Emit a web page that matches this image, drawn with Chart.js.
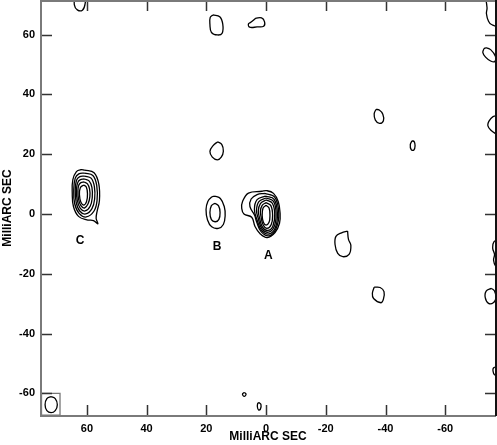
<!DOCTYPE html>
<html lang="en">
<head>
    <meta charset="UTF-8">
    <title>Contour map A B C</title>
    <script src="https://cdn.jsdelivr.net/npm/chart.js"></script>
    <style>
        body { margin: 0; background: #fff; }
        #wrap { width: 497px; height: 445px; }
    </style>
</head>
<body>
    <div id="wrap"><canvas id="mapa" width="497" height="445"></canvas></div>

    <script>
        // axis ticks (milliarcsec)
        const xTicks = [60, 40, 20, 0, -20, -40, -60];
        const yTicks = [60, 40, 20, 0, -20, -40, -60];

        // component A: nested contours, outer to inner
        const compA = [
            [[1.4,7.6],[5.9,7.0],[7.9,4.1],[8.15,1.9],[7.4,0],[4.8,-1.1],[3.7,-4.2],[2.0,-6.6],[-0.4,-7.9],[-3.0,-6.2],[-4.5,-3.1],[-4.7,0.2],[-4.1,4.1],[-2.5,6.9],[-0.2,7.8]],
            [[0.5,6.9],[-2.9,5.6],[-4.25,0.3],[-3.4,-4.8],[-1.1,-7.3],[1.6,-6.0],[3.2,-2.5],[3.8,-0.5],[5.4,2.5],[5.0,5.0],[3.0,6.5]],
            [[0.2,6.0],[-2.7,4.9],[-3.8,0.2],[-3.1,-4.6],[-1.0,-6.7],[1.5,-5.5],[3.0,-2.0],[3.9,1.5],[3.0,4.8]],
            [[0,5.35],[-2.5,4.2],[-3.35,0],[-2.7,-4.3],[-0.8,-6.1],[1.4,-4.9],[2.6,-1.5],[3.2,1.2],[2.4,4.1]],
            [[0,4.7],[-2.1,3.6],[-2.9,0],[-2.3,-4.0],[-0.6,-5.5],[1.2,-4.4],[2.2,-1.2],[2.6,1.0],[1.9,3.5]],
            [[0,3.8],[-1.6,2.8],[-2.2,-0.5],[-1.7,-3.6],[-0.3,-4.8],[1.0,-3.6],[1.7,-0.8],[1.9,1.0],[1.3,2.9]],
            [[0,2.9],[-1.0,2.0],[-1.3,-0.4],[-1.0,-2.8],[0,-3.7],[0.9,-2.8],[1.3,-0.4],[1.0,2.0]]
        ];

        // component B: two contours
        const compB = [
            [[17.3,6.0],[15.3,5.2],[14.0,2.5],[13.7,-0.5],[14.3,-3.5],[16.0,-4.8],[18.2,-4.3],[19.6,-2.0],[20.1,1.5],[19.5,4.2],[18.3,5.6]],
            [[17.1,3.6],[15.9,2.7],[15.4,0.5],[15.8,-1.8],[17.0,-2.6],[18.3,-1.9],[18.8,0.5],[18.3,2.8]]
        ];

        // component C: nested contours, outer to inner
        const compC = [
            [[60.8,14.7],[57.6,13.8],[56.0,10],[55.8,4.5],[56.6,0.8],[56.9,-1.5],[56.3,-3.3],[57.8,-2.2],[60.0,-2.0],[62.8,-0.8],[64.5,2.5],[64.9,7],[64.7,11.5],[63.5,14.2],[62.0,14.8]],
            [[60.8,13.7],[58.0,12.9],[56.7,9.5],[56.6,4.5],[57.6,1.0],[60.2,-1.0],[62.6,0.2],[64.1,3.5],[64.4,8],[63.9,12.0],[62.7,13.4]],
            [[60.8,12.7],[58.6,12.0],[57.5,9.2],[57.4,5.0],[58.3,1.8],[60.4,0.0],[62.4,1.0],[63.6,4.0],[63.9,8],[63.5,11.2],[62.5,12.4]],
            [[60.8,11.7],[59.2,11.0],[58.3,8.8],[58.2,5.5],[58.9,2.6],[60.6,1.0],[62.2,1.9],[63.2,4.5],[63.5,8],[63.1,10.4],[62.3,11.4]],
            [[60.9,10.7],[59.8,10.1],[59.1,8.4],[59.0,5.8],[59.6,3.4],[60.8,2.0],[62.0,2.8],[62.8,5.0],[63.0,7.8],[62.7,9.7],[62.0,10.5]],
            [[61.1,9.7],[60.2,9.0],[59.8,6.8],[60.1,4.2],[61.0,3.0],[62.0,3.9],[62.5,6.5],[62.2,8.8]]
        ];

        // faint single-level contours around the field
        const noise = [
            [[64,73],[64.2,70],[63.2,68.3],[61.5,68.2],[60.6,70.3],[60.8,73]],
            [[17.8,66.6],[15.5,66.0],[14.5,63.5],[14.7,60.5],[16.3,59.9],[18.3,60.8],[18.8,63.5],[18.7,65.8]],
            [[3.5,65.5],[1.5,65.6],[0.5,64.3],[0.8,62.8],[3.0,62.6],[5.5,62.5],[5.9,63.6],[5.0,64.2]],
            [[16.2,24.2],[14.8,23.2],[14.3,21.0],[15.0,19.0],[16.3,18.1],[18.0,19.0],[18.8,21],[17.8,22.8]],
            [[-36.8,35.0],[-36.2,33.5],[-36.6,31.4],[-38.0,30.3],[-39.3,31.2],[-39.1,33.4],[-37.9,34.8]],
            [[-48.9,24.5],[-48.3,23.2],[-48.6,21.5],[-49.5,21.4],[-49.9,22.8],[-49.6,24.2]],
            [[-73.4,73],[-74.0,69],[-73.8,67],[-74.5,64.5],[-75.5,63.4],[-78,63],[-78,73]],
            [[-73,55.4],[-72.6,54.0],[-73.5,52.5],[-75.2,51.2],[-76.6,51.0],[-76.8,52.8],[-75.2,55.0],[-73.8,55.6]],
            [[-78,32.8],[-76,32.6],[-74.6,31.0],[-74.3,29.5],[-75.3,28.0],[-77,26.8],[-78,26.4]],
            [[-27.3,-5.7],[-25.3,-6.3],[-23.4,-7.5],[-23.1,-10.2],[-24.0,-13.2],[-25.7,-14.3],[-27.8,-13.5],[-28.4,-10.5],[-27.6,-8.5]],
            [[-36.2,-24.5],[-35.6,-26.5],[-36.0,-28.3],[-38.5,-29.7],[-39.3,-28.5],[-39.5,-26.0],[-38.2,-24.6]],
            [[-75.5,-24.9],[-73.7,-25.8],[-73.4,-28.0],[-74.5,-29.9],[-76.2,-29.6],[-77,-28],[-76.5,-25.8]],
            [[-78,-8.7],[-76.3,-9.3],[-75.9,-11.5],[-76.5,-13.5],[-76.2,-15.5],[-77,-17.7],[-78,-17.7]],
            [[-78,-51],[-76.2,-51.5],[-76.0,-52.5],[-76.5,-53.8],[-78,-53.8]],
            [[7.3,-59.7],[6.7,-60.3],[7.3,-61.0],[7.9,-60.3]],
            [[2.4,-63.1],[1.7,-63.8],[1.9,-65.3],[2.5,-65.6],[2.9,-64.6],[2.8,-63.4]]
        ];

        // restoring beam and its box (lower left corner)
        const beam = [[72,-61.1],[70.6,-61.8],[69.9,-63.8],[70.6,-65.8],[72,-66.5],[73.4,-65.8],[74.0,-63.8],[73.4,-61.8]];
        const beamBox = [[75.2,-60.0],[69.0,-60.0],[69.0,-67.3],[75.2,-67.3]];

        // component names
        const compLabels = ['C', 'B', 'A'];
        const compLabelX = [62.3, 16.4, -0.8];
        const compLabelY = [-8.8, -11.0, -13.8];

        const fonte = "'Liberation Sans', Arial, sans-serif";

        function fechar(pts) {
            const d = pts.map(([x, y]) => ({ x, y }));
            d.push({ x: pts[0][0], y: pts[0][1] });
            return d;
        }

        function contorno(pts, cor, tensao) {
            return {
                data: fechar(pts),
                showLine: true,
                borderColor: cor,
                borderWidth: 1.3,
                pointRadius: 0,
                tension: tensao,
                fill: false
            };
        }

        const datasets = [];
        [...compA, ...compB, ...compC, ...noise].forEach(c => datasets.push(contorno(c, '#000', 0.4)));
        datasets.push(contorno(beam, '#000', 0.4));
        datasets.push(contorno(beamBox, '#777', 0));

        // frame, inward ticks and component names
        const molduraPlugin = {
            id: 'moldura',
            afterDraw(chart) {
                const { ctx, chartArea: a, scales: { x, y } } = chart;
                ctx.save();
                ctx.lineWidth = 1.5;
                ctx.strokeStyle = '#333';
                xTicks.forEach(v => {
                    const px = Math.round(x.getPixelForValue(v)) + 0.5;
                    ctx.beginPath();
                    ctx.moveTo(px, a.bottom); ctx.lineTo(px, a.bottom - 11);
                    ctx.moveTo(px, a.top); ctx.lineTo(px, a.top + 11);
                    ctx.stroke();
                });
                yTicks.forEach(v => {
                    const py = Math.round(y.getPixelForValue(v)) + 0.5;
                    ctx.beginPath();
                    ctx.moveTo(a.left, py); ctx.lineTo(a.left + 12, py);
                    ctx.moveTo(a.right, py); ctx.lineTo(a.right - 11, py);
                    ctx.stroke();
                });
                ctx.lineWidth = 2;
                ctx.strokeStyle = '#7a7a7a';
                ctx.beginPath();
                ctx.moveTo(a.right, a.top + 1); ctx.lineTo(a.left + 1, a.top + 1);
                ctx.lineTo(a.left + 1, a.bottom); ctx.lineTo(a.right, a.bottom);
                ctx.stroke();
                ctx.strokeStyle = '#111';
                ctx.beginPath();
                ctx.moveTo(a.right, a.top); ctx.lineTo(a.right, a.bottom);
                ctx.stroke();

                ctx.fillStyle = '#000';
                ctx.font = 'bold 12px ' + fonte;
                ctx.textAlign = 'center';
                ctx.textBaseline = 'middle';
                compLabels.forEach((t, i) => {
                    ctx.fillText(t, x.getPixelForValue(compLabelX[i]), y.getPixelForValue(compLabelY[i]));
                });
                ctx.restore();
            }
        };

        const tickFont = { family: fonte, weight: 'bold', size: 11 };
        const titleFont = { family: fonte, weight: 'bold', size: 12 };

        new Chart(document.getElementById('mapa'), {
            type: 'scatter',
            data: { datasets },
            options: {
                responsive: false,
                animation: false,
                layout: { padding: { top: 0, right: 1, left: 0, bottom: 0 } },
                plugins: {
                    legend: { display: false },
                    tooltip: { enabled: false }
                },
                scales: {
                    x: {
                        type: 'linear',
                        reverse: true,
                        min: -77,
                        max: 75.7,
                        afterBuildTicks: s => { s.ticks = xTicks.map(v => ({ value: v })); },
                        afterFit: s => { s.height = 29; s.paddingLeft = 0; s.paddingRight = 0; },
                        grid: { display: false, drawTicks: false },
                        border: { display: false },
                        ticks: { font: tickFont, color: '#000', padding: 6, maxRotation: 0 },
                        title: { display: true, text: 'MilliARC SEC', font: titleFont, color: '#000', padding: { top: 0, bottom: 1 } }
                    },
                    y: {
                        type: 'linear',
                        min: -67.6,
                        max: 71.6,
                        afterBuildTicks: s => { s.ticks = yTicks.map(v => ({ value: v })); },
                        afterFit: s => { s.width = 40; s.paddingTop = 0; s.paddingBottom = 0; },
                        grid: { display: false, drawTicks: false },
                        border: { display: false },
                        ticks: { font: tickFont, color: '#000', padding: 5 },
                        title: { display: true, text: 'MilliARC SEC', font: titleFont, color: '#000', padding: 0 }
                    }
                }
            },
            plugins: [molduraPlugin]
        });
    </script>
</body>
</html>
